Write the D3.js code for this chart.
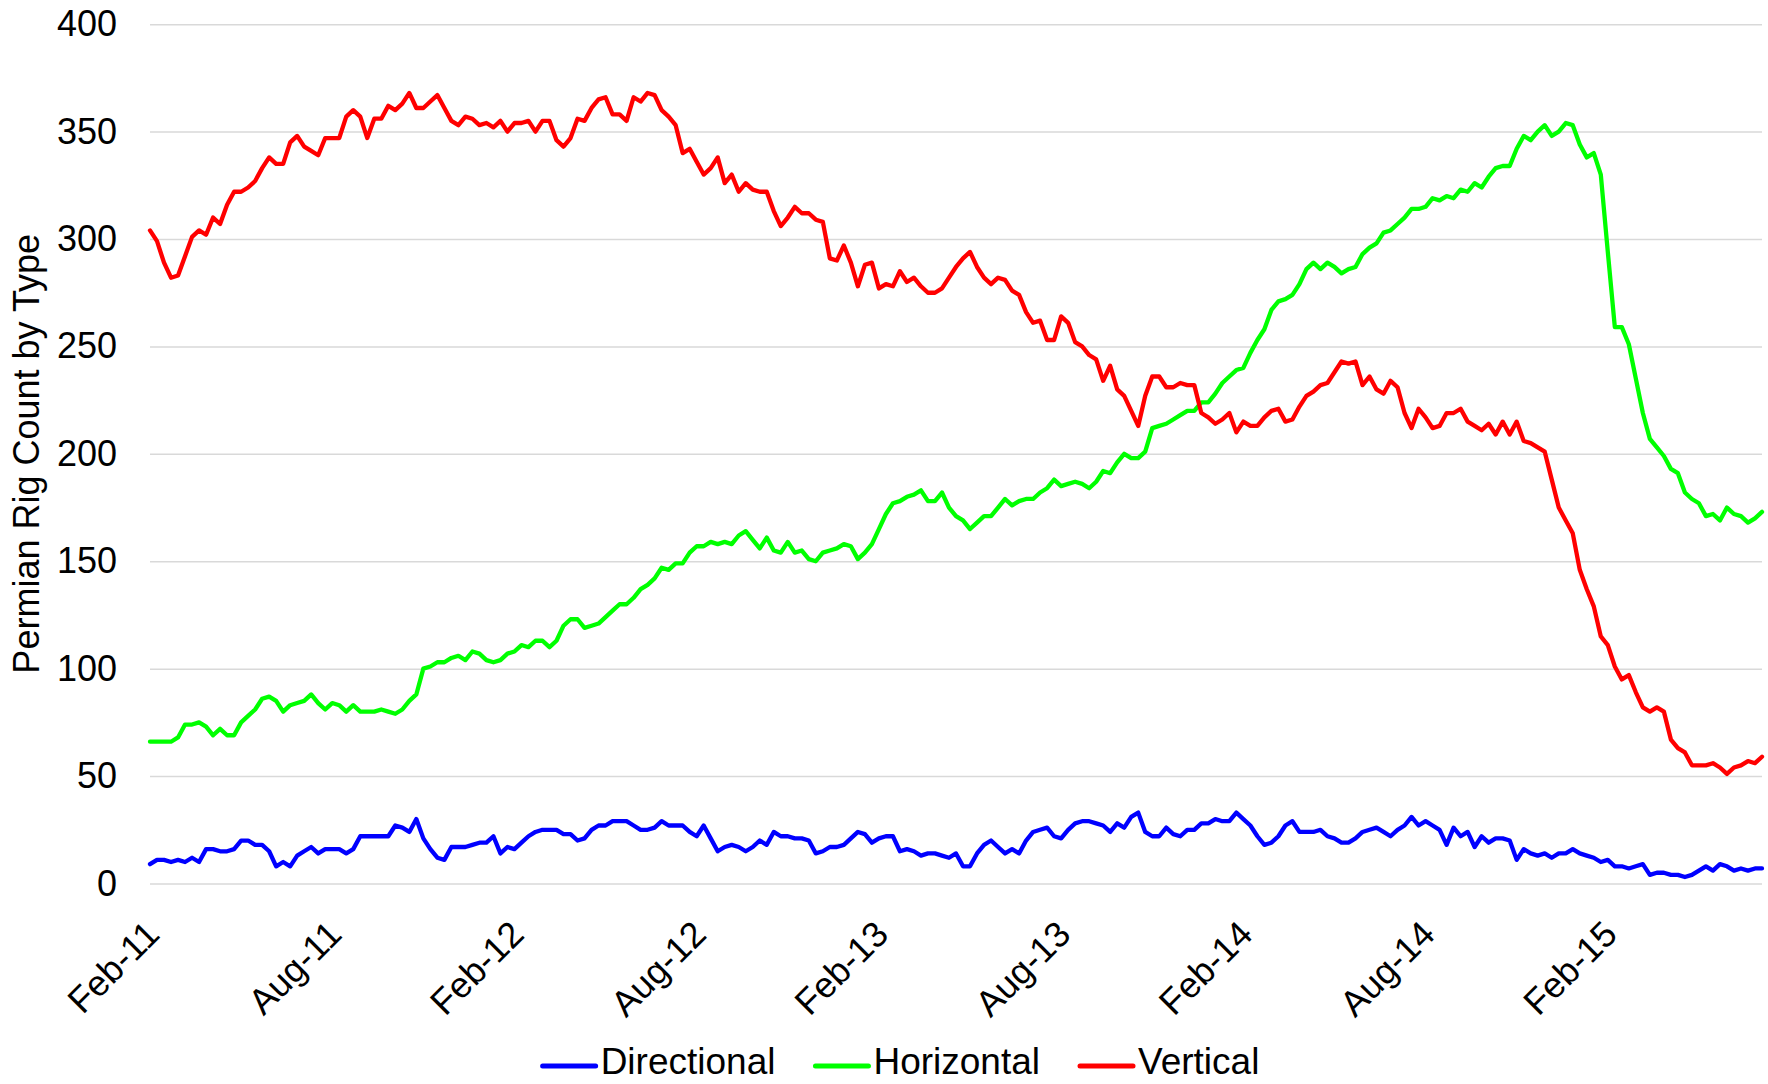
<!DOCTYPE html>
<html><head><meta charset="utf-8">
<script src="https://cdn.jsdelivr.net/npm/d3@7"></script>
<style>
html,body{margin:0;padding:0;background:#fff;}
svg{display:block;}
text{font-family:"Liberation Sans",Arial,sans-serif;fill:#000;}
</style>
</head><body>
<svg id="chart" width="1768" height="1084"></svg>
<script>
// ---- data (weekly Permian rig counts, Feb-2011 .. mid-2015) ----
const xTickLabels = ["Feb-11","Aug-11","Feb-12","Aug-12","Feb-13","Aug-13","Feb-14","Aug-14","Feb-15"];
const weeksPerLabel = 26;
const yTickValues = [0,50,100,150,200,250,300,350,400];
const seriesNames = ["Directional","Horizontal","Vertical"];
const seriesColors = ["#0000ff","#00ff00","#ff0000"];
const yTitle = "Permian Rig Count by Type";

const directional = [
9,11,11,10,11,10,12,10,16,16, 15,15,16,20,20,18,18,15,8,10,
8,13,15,17,14,16,16,16,14,16, 22,22,22,22,22,27,26,24,30,21,
16,12,11,17,17,17,18,19,19,22, 14,17,16,19,22,24,25,25,25,23,
23,20,21,25,27,27,29,29,29,27, 25,25,26,29,27,27,27,
24,22,27,21,15,17,18,17,15,17,20,18,24,
22,22,21,21,20,14,15,17,17,18, 21,24,23,19,21,22,22,15,16,15,
13,14,14,13,12,14,8,8,14,18, 20,17,14,16,14,20,24,25,26,22,
21,25,28,29,29,28,27,24,28,26, 31,33,24,22,22,26,23,22,25,25,
28,28,30,29,29,
33,30,27,22,18,19,22,27,29,24, 24,24,25,22,21,19,19,21,24,25,
26,24,22,25,27,31,27,29,27,25, 18,26,22,24,17,22,19,21,21,20,
11,16,14,13,14,12,14,14,16,14, 13,12,10,11,8,8,7,8,9,4,
5,5,4,4,3,4,6,8,6,9, 8,6,7,6,7,7];

const horizontal = [
66,66,66,66,68,74,74,75,73,69, 72,69,69,75,78,81,86,87,85,80,
83,84,85,88,84,81,84,83,80,83, 80,80,80,81,80,79,81,85,88,
100,101,103,103,105,106,104,108,107,104,103,
104,107,108,111,110,113,113,110,113,120, 123,123,119,120,121,124,127,130,130,133,
137,139,142,147,146,149,149,
154,157,157,159,158,159,158,162,164,160,156,161,155,
154,159,154,155,151,150,154,155,156,158, 157,151,154,158,165,172,177,178,180,181,
183,178,178,182,175,171,
169,165,168,171,171,175,179,176,178,179, 179,182,184,188,185,186,187,186,184,187,
192,191,196,200,198,198,201,212,213,214, 216,218,220,220,224,224,228,233,236,
239,240,247,253,258,267,271,272,274,279, 286,289,286,289,287,284,286,287,293,296,
298,303,304,307,310,314,314,315,319,318, 320,319,323,322,326,324,329,333,
334,334,342,348,346,350,353,348,350,354, 353,344,338,340,330,294,259,259,251,235,
219,207,203,199,193,191,182,179,177,171, 172,169,175,172,171,168,170,173];

const vertical = [
304,299,289,282,283,292,301,304,302,310, 307,316,322,322,324,327,333,338,335,335,
345,348,343,341,339,347,347,347,357,360, 357,347,356,356,362,360,363,368,361,
361,364,367,361,355,353,357,356,353,354,352,
355,350,354,354,355,350,355,355,346,343, 347,356,355,361,365,366,358,358,355,366,
364,368,367,360,357,353,340,
342,336,330,333,338,326,330,322,326,323,322,322,313,
306,310,315,312,312,309,308,291,290,297, 289,278,288,289,277,279,278,285,280,282,
278,275,275,277,282,287,
291,294,287,282,279,282,281,276,274,266, 261,262,253,253,264,261,252,250,246,244,
234,241,230,227,220,213,227,236,236,231, 231,233,232,232,219,217,214,216,219,
210,215,213,213,217,220,221,215,216,222, 227,229,232,233,238,243,242,243,232,236,
230,228,234,231,219,212,221,217,212,213, 219,219,221,215,213,211,214,209,
215,209,215,206,205,203,201,188,175,169, 163,146,137,129,115,111,101,95,97,89,
82,80,82,80,67,63,61,55,55,55, 56,54,51,54,55,57,56,59];

// ---- layout ----
const W = 1768, H = 1084;
const plot = {left:150, right:1762, top:24.2, bottom:883.5};
const FS = 36, LEG_FS = 37;

const svg = d3.select("#chart");
svg.append("rect").attr("width",W).attr("height",H).attr("fill","#fff");

const n = vertical.length;
const x = d3.scaleLinear().domain([0, n-1]).range([plot.left, plot.right]);
const y = d3.scaleLinear().domain([0, 400]).range([plot.bottom, plot.top]);

// gridlines + y labels
const yAxis = d3.axisLeft(y).tickValues(yTickValues).tickFormat(d3.format("d"))
  .tickSize(-(plot.right - plot.left)).tickPadding(33);
const gy = svg.append("g").attr("transform",`translate(${plot.left},0)`).call(yAxis);
gy.select(".domain").remove();
gy.selectAll(".tick line").attr("stroke","#d9d9d9").attr("stroke-width",1.5);
gy.selectAll(".tick text").attr("font-size",FS).attr("fill","#000")
  .attr("font-family","'Liberation Sans',Arial,sans-serif");

// x labels
const xTickIdx = xTickLabels.map((_,k)=>k*weeksPerLabel);
const xAxis = d3.axisBottom(x).tickValues(xTickIdx)
  .tickFormat((d,i)=>xTickLabels[i]).tickSize(0).tickPadding(0);
const gx = svg.append("g").attr("transform",`translate(0,${plot.bottom})`).call(xAxis);
gx.select(".domain").remove();
gx.selectAll(".tick text")
  .attr("font-size",FS).attr("fill","#000")
  .attr("font-family","'Liberation Sans',Arial,sans-serif")
  .attr("text-anchor","end")
  .attr("y",0).attr("dy","0.35em")
  .attr("transform","translate(2,44) rotate(-45)");

// y title
svg.append("text")
  .attr("transform",`translate(39,${(plot.top+plot.bottom)/2}) rotate(-90)`)
  .attr("text-anchor","middle")
  .attr("font-size",FS)
  .text(yTitle);

// lines
const allSeries = [directional, horizontal, vertical];
const line = d3.line().x((d,i)=>x(i)).y(d=>y(d));
[0,1,2].forEach(s=>{
  svg.append("path").datum(allSeries[s])
    .attr("fill","none").attr("stroke",seriesColors[s])
    .attr("stroke-width",4.3).attr("stroke-linejoin","round").attr("stroke-linecap","round")
    .attr("d",line);
});

// legend
const legY = 1066, sampleLen = 53, sampleGap = 5, itemGap = 40, legCenter = 901;
const lg = svg.append("g");
const items = seriesNames.map((name,s)=>{
  const g = lg.append("g");
  g.append("line").attr("x1",0).attr("x2",sampleLen).attr("y1",legY).attr("y2",legY)
    .attr("stroke",seriesColors[s]).attr("stroke-width",5).attr("stroke-linecap","round");
  const t = g.append("text").attr("x",sampleLen+sampleGap).attr("y",legY+8)
    .attr("font-size",LEG_FS).text(name);
  return {g, w: sampleLen + sampleGap + t.node().getComputedTextLength()};
});
const total = d3.sum(items,d=>d.w) + itemGap*(items.length-1);
let cx = legCenter - total/2;
items.forEach(it=>{ it.g.attr("transform",`translate(${cx},0)`); cx += it.w + itemGap; });
</script>
</body></html>
